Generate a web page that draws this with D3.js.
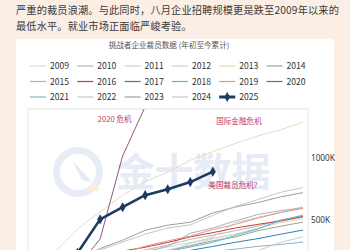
<!DOCTYPE html>
<html><head><meta charset="utf-8">
<script src="https://cdn.jsdelivr.net/npm/d3@7"></script>
<style>
html,body{margin:0;padding:0;background:#fbeee5;}
svg{display:block;font-family:"Noto Sans CJK SC","Noto Sans",sans-serif;}
</style></head>
<body>
<svg id="c" width="350" height="250"></svg>
<script>
// ---- data (cumulative layoffs, thousands, Jan..Dec) ----
const months = [1,2,3,4,5,6,7,8,9,10,11,12];
const years = ["2009","2010","2011","2012","2013","2014","2015","2016","2017","2018","2019","2020","2021","2022","2023","2024","2025"];
const s2009 = [242,428,566,699,810,885,982,1051,1118,1178,1228,1289];
const s2010 = [71,114,181,220,259,298,344,377,414,451,500,532];
const s2011 = [39,89,131,167,204,246,312,363,479,522,564,606];
const s2012 = [53,105,143,184,246,283,319,351,386,433,490,523];
const s2013 = [40,96,145,183,219,259,296,347,387,433,478,509];
const s2014 = [45,87,128,168,220,251,292,332,363,414,449,483];
const s2015 = [53,104,140,202,243,288,393,435,493,544,576,598];
const s2016 = [75,137,185,250,280,319,364,398,435,465,492,527];
const s2017 = [46,83,126,163,196,227,255,287,320,350,385,419];
const s2018 = [45,80,140,176,208,245,282,320,375,428,497,539];
const s2019 = [53,130,190,230,289,331,370,423,465,515,560,593];
const s2020 = [68,124,346,1017,1414,1584,1847,1963,2082,2162,2227,2305];
const s2021 = [80,114,145,168,192,213,232,247,265,288,303,322];
const s2022 = [19,34,56,80,100,133,159,189,219,253,320,364];
const s2023 = [103,181,270,337,417,458,482,557,604,641,686,721];
const s2024 = [82,167,257,322,386,435,461,537,610,665,723,762];
const s2025 = [50,235,505,603,700,748,806,890];
const yTicks = [500,1000];
const tickLabels = ["500K","1000K"];
const title = "挑战者企业裁员数据 (年初至今累计)";
const intro = ["严重的裁员浪潮。与此同时，八月企业招聘规模更是跌至2009年以来的","最低水平。就业市场正面临严峻考验。"];
const notes = [{t:"2020 危机",x:2.9,v:1290},{t:"国际金融危机",x:8.15,v:1275},{t:"美国裁员危机?",x:7.8,v:762}];

const seriesVals = [s2009,s2010,s2011,s2012,s2013,s2014,s2015,s2016,s2017,s2018,s2019,s2020,s2021,s2022,s2023,s2024,s2025];
const colors = ["#e8dcc2","#aebcae","#c9cfd0","#c6d2de","#e6d8b4","#93a893","#a9b3bd","#c93a3a","#2f7fba","#62b3da","#e6958a","#8d5a7c","#8fb0c4","#c4ccd4","#9d9d9d","#b9c8d8","#1d3a60"];

const svg = d3.select("#c");
// card
svg.append("rect").attr("x",16).attr("y",39).attr("width",318).attr("height",240).attr("rx",4).attr("fill","#fff");
// intro text
svg.selectAll("text.intro").data(intro).join("text")
  .attr("x",16).attr("y",(d,i)=>14+i*15.5).attr("font-size",10.2).attr("fill","#3a3a3a")
  .attr("letter-spacing",0.15).text(d=>d);
// title
svg.append("text").attr("x",169).attr("y",48).attr("text-anchor","middle")
  .attr("font-size",7.6).attr("fill","#555").text(title);

// legend
const lg = svg.append("g");
years.forEach((yr,i)=>{
  const col=i%6,row=Math.floor(i/6);
  const lx=30+col*47.3, ly=66+row*15.5;
  const g=lg.append("g").attr("transform",`translate(${lx},${ly})`);
  const is25 = yr==="2025";
  g.append("line").attr("x1",0).attr("x2",16).attr("y1",0).attr("y2",0)
   .attr("stroke",colors[i]).attr("stroke-width",is25?3:1.2);
  if(is25) g.append("path").attr("d",d3.symbol(d3.symbolDiamond,28)()).attr("transform","translate(8,0)").attr("fill",colors[i]);
  g.append("text").attr("x",20).attr("y",3).attr("font-size",8.6).attr("fill","#333").text(yr);
});

// plot
const px0=28, px1=308, py0=109;
const x = d3.scaleLinear().domain([1,12]).range([55,303]);
const y = d3.scaleLinear().domain([0,1000]).range([282,158]);
svg.append("rect").attr("x",px0).attr("y",py0).attr("width",px1-px0).attr("height",200)
  .attr("fill","none").attr("stroke","#e6e6e6").attr("stroke-width",1);
svg.append("clipPath").attr("id","clp").append("rect").attr("x",px0).attr("y",py0).attr("width",px1-px0).attr("height",200);

// watermark
const wm = svg.append("g").attr("opacity",0.9);
wm.append("circle").attr("cx",78).attr("cy",172).attr("r",21.5).attr("fill","none").attr("stroke","#e5ebf7").attr("stroke-width",7);
wm.append("path").attr("d","M72,160 L92,182 L82,180 Z").attr("fill","#e2e9f7");
wm.append("ellipse").attr("cx",94).attr("cy",188).attr("rx",5).attr("ry",3.5).attr("fill","#fbeadb");
wm.append("text").attr("x",116).attr("y",186).attr("font-size",39).attr("font-weight","bold")
  .attr("fill","#e4eaf6").attr("letter-spacing",-0.5).text("金十数据");

const pg = svg.append("g").attr("clip-path","url(#clp)");
const line = d3.line().x((d,i)=>x(months[i])).y(d=>y(d));
seriesVals.forEach((vals,i)=>{
  if(years[i]==="2025") return;
  pg.append("path").attr("d",line(vals)).attr("fill","none").attr("stroke",colors[i]).attr("stroke-width",1);
});
const i25 = years.indexOf("2025");
pg.append("path").attr("d",line(s2025)).attr("fill","none").attr("stroke",colors[i25]).attr("stroke-width",2.6).attr("stroke-linejoin","round");
pg.selectAll("path.m").data(s2025).join("path").attr("class","m")
  .attr("d",d3.symbol(d3.symbolDiamond,30)()).attr("transform",(d,i)=>`translate(${x(months[i])},${y(d)})`)
  .attr("fill",colors[i25]);

// y axis on right
const ax = svg.append("g").attr("transform",`translate(${px1},0)`)
  .call(d3.axisRight(y).tickValues(yTicks).tickSize(0).tickPadding(3).tickFormat((d,i)=>tickLabels[i]));
ax.select(".domain").remove();
ax.selectAll("text").attr("font-size",8.2).attr("fill","#333").attr("font-family","'Noto Sans',sans-serif");

// annotations
svg.selectAll("text.note").data(notes).join("text").attr("class","note")
  .attr("x",d=>x(d.x)).attr("y",d=>y(d.v)).attr("font-size",7.6).attr("fill","#c23a5c").text(d=>d.t);
</script>
</body></html>
